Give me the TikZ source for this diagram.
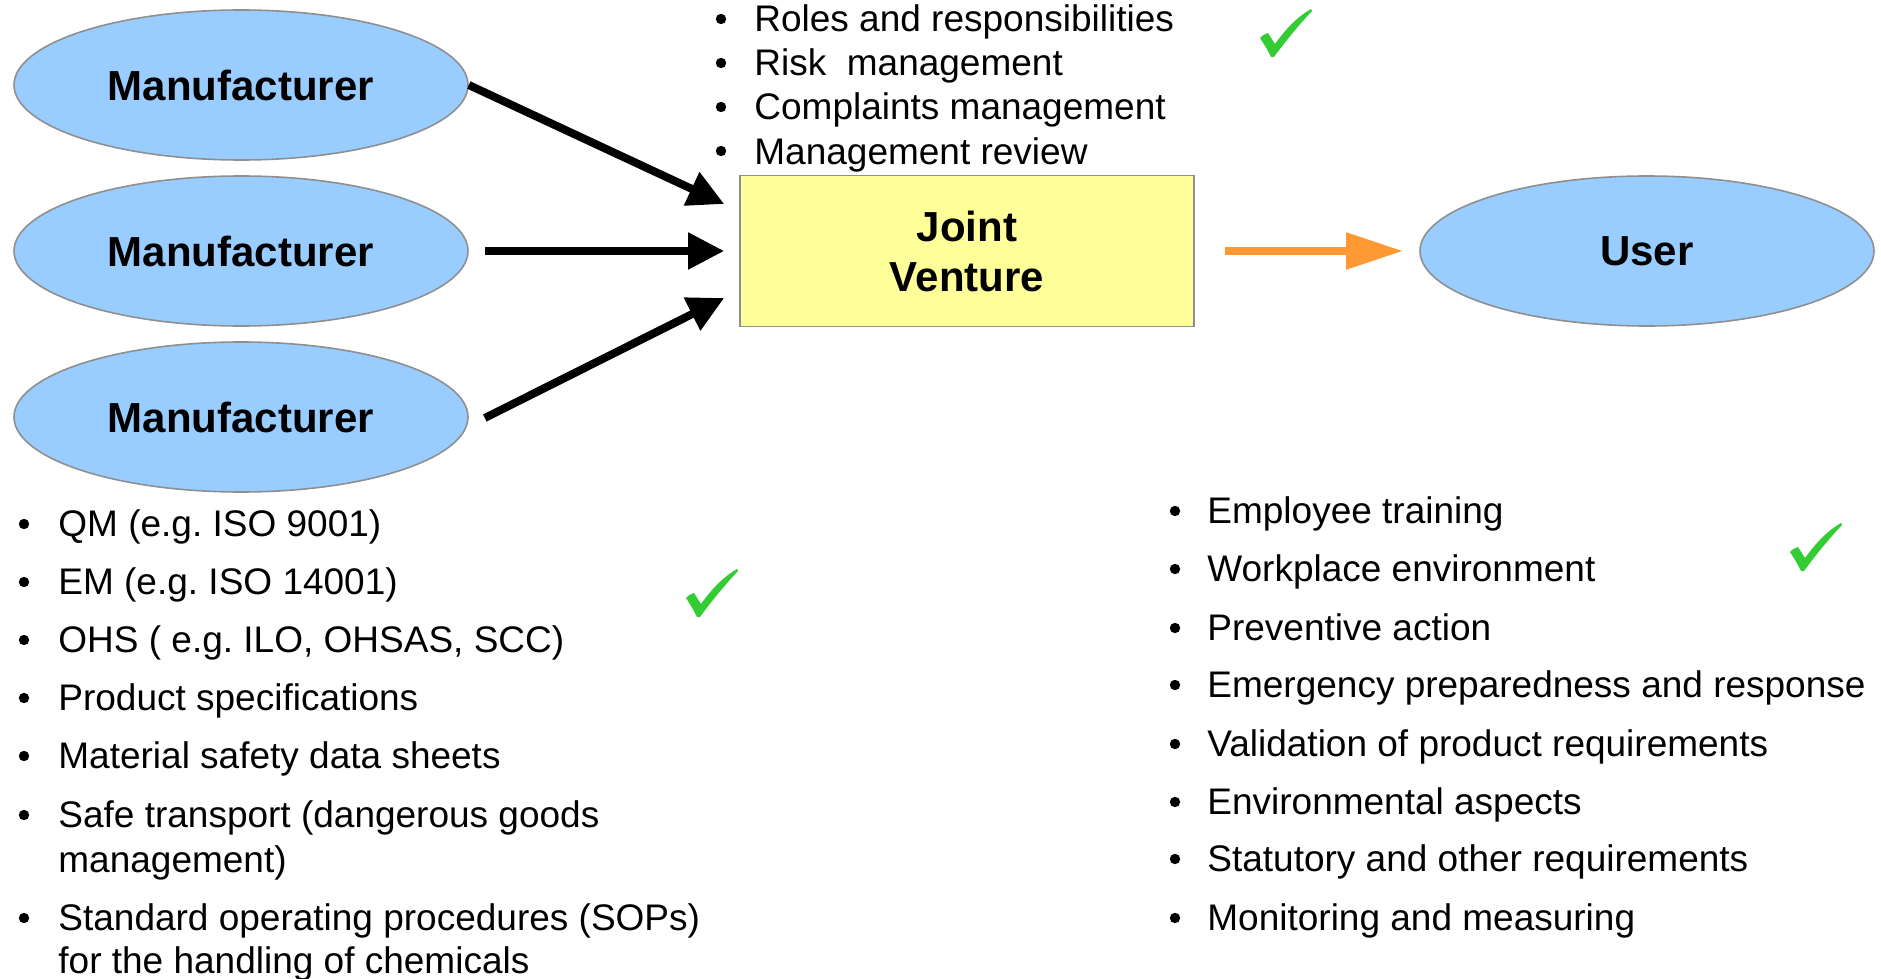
\documentclass[tikz,border=0pt]{standalone}
\usepackage{fontspec}
\setmainfont{Liberation Sans}
\frenchspacing
\usetikzlibrary{arrows.meta,shapes.geometric}
\definecolor{ellblue}{HTML}{99CCFF}
\definecolor{ellline}{HTML}{8F8F8F}
\definecolor{jvyellow}{HTML}{FFFF99}
\definecolor{arrorange}{HTML}{FF9933}
\definecolor{checkgreen}{HTML}{33CC33}
\begin{document}
\begin{tikzpicture}[x=0.5pt,y=-0.5pt,
 party/.style={ellipse, draw=ellline, line width=0.8pt, fill=ellblue, minimum width=227pt, minimum height=75pt, inner sep=0pt, font=\fontsize{21}{25}\selectfont\bfseries},
 jvbox/.style={rectangle, draw=ellline, line width=0.8pt, fill=jvyellow, minimum width=227pt, minimum height=75.5pt, align=center, font=\fontsize{21}{25}\selectfont\bfseries},
 flow/.style={line width=4pt, -{Triangle[length=18pt,width=17.5pt]}},
 outflow/.style={line width=4pt, arrorange, -{Triangle[length=28.5pt,width=17.5pt]}},
 item/.style={anchor=base west, inner sep=0pt, font=\fontsize{18.5}{22}\selectfont},
 bul/.style={circle, fill=black, inner sep=0pt, minimum size=5.2pt},
 check/.pic={\fill[checkgreen] (0,29) .. controls (3,26) .. (8,24) -- (15,35) .. controls (28,17) and (39,7) .. (51,0) -- (52,2) .. controls (37,18) and (25,33) .. (14,48) -- (11,48) .. controls (7,40) .. (0,29) -- cycle;}
]
\path[fill=white] (0,0) rectangle (1881,979);
\useasboundingbox (0,0) rectangle (1881,979);

% parties
\node[party] (m1) at (241,85) {Manufacturer};
\node[party] (m2) at (241,251) {Manufacturer};
\node[party] (m3) at (241,417) {Manufacturer};
\node[jvbox] (jv) at (967,251) {Joint\\Venture};
\node[party] (user) at (1647,251) {User};

% connectors
\draw[flow] (m1.east) -- ([shift={(-15,-47)}]jv.west);
\draw[flow] ([shift={(16,0)}]m2.east) -- ([shift={(-15,0)}]jv.west);
\draw[flow] ([shift={(16,1)}]m3.east) -- ([shift={(-15,47)}]jv.west);
\draw[outflow] ([shift={(30,0)}]jv.east) -- ([shift={(-16,0)}]user.west);

% top list
\node[bul] (tb1) at (721,19) {};  \node[item] (t1) at (754,32) {Roles and responsibilities};
\node[bul] (tb2) at (721,63) {};  \node[item] (t2) at (754,76) {Risk~~management};
\node[bul] (tb3) at (721,107) {}; \node[item] (t3) at (754,120) {Complaints management};
\node[bul] (tb4) at (721,151) {}; \node[item] (t4) at (754,164) {Management review};

% left list
\node[bul] (lb1) at (24,524) {}; \node[item] (l1) at (58,536) {QM (e.g. ISO 9001)};
\node[bul] (lb2) at (24,582) {}; \node[item] (l2) at (58,594) {EM (e.g. ISO 14001)};
\node[bul] (lb3) at (24,640) {}; \node[item] (l3) at (58,652) {OHS ( e.g. ILO, OHSAS, SCC)};
\node[bul] (lb4) at (24,698) {}; \node[item] (l4) at (58,710) {Product specifications};
\node[bul] (lb5) at (24,756) {}; \node[item] (l5) at (58,768) {Material safety data sheets};
\node[bul] (lb6) at (24,815) {}; \node[item] (l6) at (58,827) {Safe transport (dangerous goods};
\node[item] (l6b) at (58,872) {management)};
\node[bul] (lb7) at (24,918) {}; \node[item] (l7) at (58,930) {Standard operating procedures (SOPs)};
\node[item] (l7b) at (58,973) {for the handling of chemicals};

% right list
\node[bul] (rb1) at (1175,511) {}; \node[item] (r1) at (1207,523) {Employee training};
\node[bul] (rb2) at (1175,569) {}; \node[item] (r2) at (1207,581) {Workplace environment};
\node[bul] (rb3) at (1175,628) {}; \node[item] (r3) at (1207,640) {Preventive action};
\node[bul] (rb4) at (1175,685) {}; \node[item] (r4) at (1207,697) {Emergency preparedness and response};
\node[bul] (rb5) at (1175,744) {}; \node[item] (r5) at (1207,756) {Validation of product requirements};
\node[bul] (rb6) at (1175,802) {}; \node[item] (r6) at (1207,814) {Environmental aspects};
\node[bul] (rb7) at (1175,859) {}; \node[item] (r7) at (1207,871) {Statutory and other requirements};
\node[bul] (rb8) at (1175,918) {}; \node[item] (r8) at (1207,930) {Monitoring and measuring};

% check marks
\pic at (1260,9) {check};
\pic at (686,569) {check};
\pic at (1790,523) {check};
\end{tikzpicture}
\end{document}
